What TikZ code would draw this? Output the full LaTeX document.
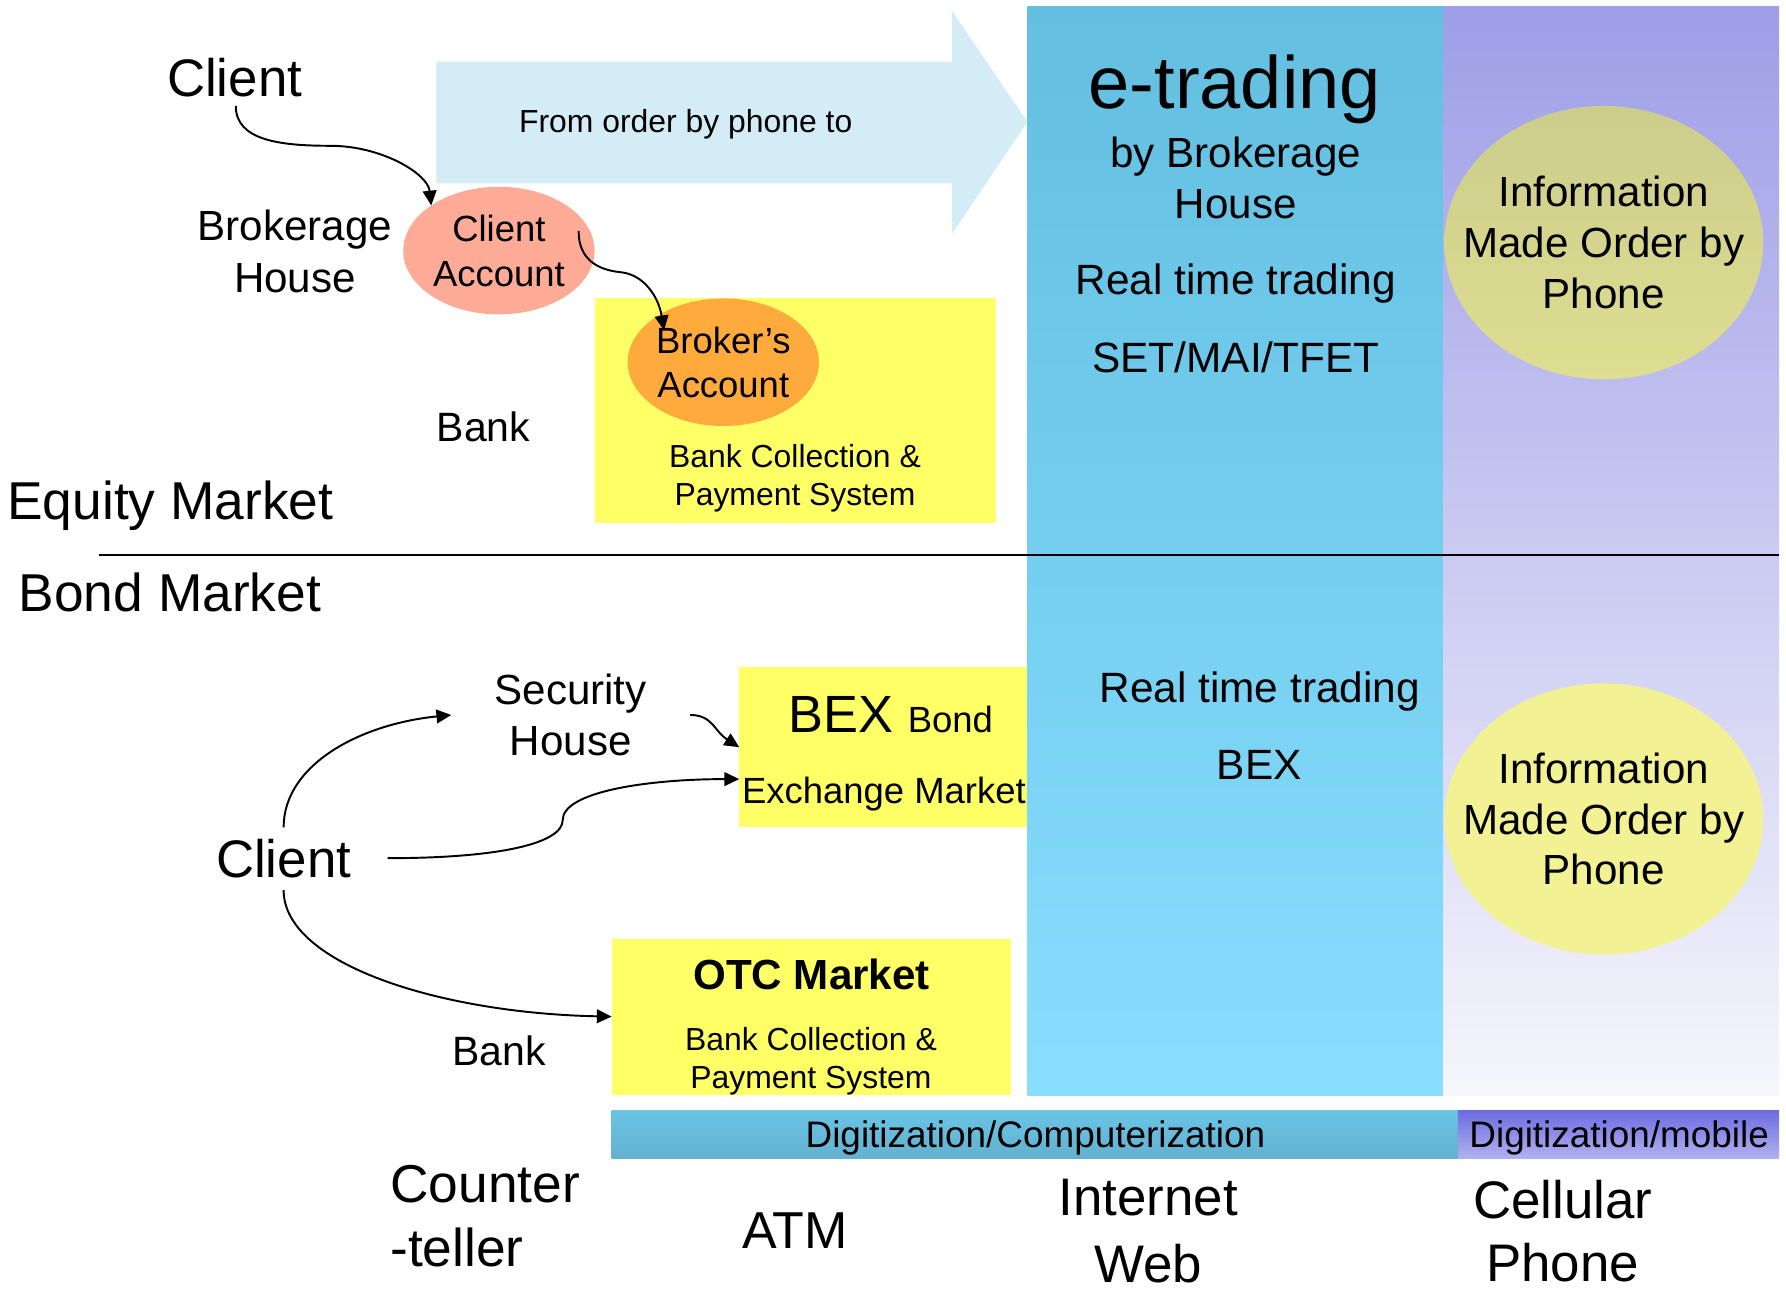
\documentclass[tikz,border=0pt]{standalone}
\usepackage{fontspec}
\setmainfont{Liberation Sans}
\usetikzlibrary{arrows.meta,shapes.geometric,calc}

\definecolor{arrowblue}{RGB}{212,236,246}
\definecolor{salmon}{RGB}{253,171,151}
\definecolor{orng}{RGB}{255,170,60}
\definecolor{ylw}{RGB}{255,255,102}
\definecolor{colbluetop}{RGB}{99,190,224}
\definecolor{colbluebot}{RGB}{136,222,255}
\definecolor{colpurtop}{RGB}{158,158,232}
\definecolor{colpurmid}{RGB}{216,216,244}
\definecolor{colpurbot}{RGB}{246,246,252}
\definecolor{olivetop}{RGB}{204,204,140}
\definecolor{olivebot}{RGB}{222,222,146}
\definecolor{paleyel}{RGB}{242,242,148}
\definecolor{barbluetop}{RGB}{106,196,228}
\definecolor{barbluebot}{RGB}{100,176,208}
\definecolor{barpurtop}{RGB}{108,108,224}
\definecolor{barpurbot}{RGB}{178,178,240}

\begin{document}
\begin{tikzpicture}[x=0.5pt,y=-0.5pt,
  txt/.style={inner sep=0pt,outer sep=0pt},
  fs/.style 2 args={font=\fontsize{#1}{#2}\selectfont},
  ybox/.style={rectangle,fill=ylw,inner sep=0pt,outer sep=0pt},
  blob/.style={ellipse,inner sep=0pt,outer sep=0pt},
  conn/.style={-{Triangle[length=6.5pt,width=6pt]},line width=0.85pt}]

\useasboundingbox (0,0) rectangle (1568,1135);

% columns
\shade[top color=colbluetop,bottom color=colbluebot] (902,6) rectangle (1267,962);
\shade[top color=colpurtop,middle color=colpurmid,bottom color=colpurbot] (1267,6) rectangle (1562,962);

% big arrow
\fill[arrowblue] (383,54) -- (836,54) -- (836,10) -- (902,107) -- (836,205) -- (836,161) -- (383,161) -- cycle;
\node[txt,fs={14}{17},anchor=base] (order) at (602,116) {From order by phone to};

% equity market
\node[txt,fs={23.2}{28},anchor=base] (client1) at (206,85) {Client};
\node[txt,fs={18.5}{23},align=center] (broker) at (259,220.7) {Brokerage\\House};
\node[ybox,minimum width=176pt,minimum height=98.5pt] (eqbox) at (698,360.5) {};
\node[blob,fill=salmon,minimum width=84pt,minimum height=56pt] (cacc) at (438,220) {};
\node[txt,fs={16}{19.7},align=center] (cacctxt) at (cacc.center) {Client\\Account};
\node[blob,fill=orng,minimum width=84pt,minimum height=56pt] (bacc) at (635,318) {};
\node[txt,fs={16}{19.35},align=center] (bacctxt) at (bacc.center) {Broker’s\\Account};
\node[txt,fs={18}{22},anchor=base] (bank1) at (424.5,388) {Bank};
\node[txt,fs={14}{16.75},align=center] (bcps1) at (698,420.1) {Bank Collection \&\\Payment System};
\node[txt,fs={23.4}{28},anchor=base west] (equity) at (6.5,456) {Equity Market};

% e-trading column
\node[txt,fs={32.5}{39},anchor=base] (etrade) at (1084,95) {e-trading};
\node[txt,fs={18.5}{22.35},align=center] (bybh) at (1085,155.9) {by Brokerage\\House};
\node[txt,fs={18.6}{22},anchor=base] (rtt1) at (1085,258.7) {Real time trading};
\node[txt,fs={18.6}{22},anchor=base] (setmai) at (1085,326.6) {SET/MAI/TFET};

% phone column, top
\node[blob,top color=olivetop,bottom color=olivebot,minimum width=140pt,minimum height=120pt] (info1) at (1408,213) {};
\node[txt,fs={18.5}{22.25},align=center] (info1txt) at (info1.center) {Information\\Made Order by\\Phone};

% separator
\draw[line width=0.8pt] (87,487) -- (1562,487);

% bond market
\node[txt,fs={23.4}{28},anchor=base west] (bond) at (16.5,537) {Bond Market};
\node[txt,fs={18.5}{22},align=center] (sec) at (501,627.7) {Security\\House};
\node[ybox,minimum width=126.5pt,minimum height=70pt] (bex) at (775.5,656) {};
\node[txt,anchor=base] (bextitle) at (782,643) {\fontsize{23}{28}\selectfont BEX \fontsize{16}{19}\selectfont Bond};
\node[txt,fs={16}{19},anchor=base] (exch) at (776,705) {Exchange Market};
\node[txt,fs={23.2}{28},anchor=base] (client2) at (249,770) {Client};
\node[ybox,minimum width=175.5pt,minimum height=68.5pt] (otc) at (712.5,892.5) {};
\node[txt,font=\bfseries\fontsize{18.5}{22}\selectfont,anchor=base] (otctitle) at (712.5,868.3) {OTC Market};
\node[txt,fs={14}{16.85},align=center] (bcps2) at (712,931.5) {Bank Collection \&\\Payment System};
\node[txt,fs={18}{22},anchor=base] (bank2) at (438,935.5) {Bank};

\node[txt,fs={18.6}{22},anchor=base] (rtt2) at (1106,616.8) {Real time trading};
\node[txt,fs={18.6}{22},anchor=base] (bex2) at (1105.6,684) {BEX};
\node[blob,fill=paleyel,minimum width=140pt,minimum height=119pt] (info2) at (1408,719) {};
\node[txt,fs={18.5}{22.3},align=center] (info2txt) at (info2.center) {Information\\Made Order by\\Phone};

% bottom bars
\shade[top color=barbluetop,bottom color=barbluebot] (537,975) rectangle (1280,1017.5);
\shade[top color=barpurtop,bottom color=barpurbot] (1280,975) rectangle (1562,1017.5);
\node[txt,fs={16.2}{19},anchor=base] (digi1) at (909,1007.8) {Digitization/Computerization};
\node[txt,fs={16.2}{19},anchor=base] (digi2) at (1421.5,1007.8) {Digitization/mobile};

% bottom labels
\node[txt,fs={23.4}{28.1},align=left,anchor=west] (counter) at (342.7,1068) {Counter\\-teller};
\node[txt,fs={22.8}{27},anchor=base] (atm) at (698,1096.3) {ATM};
\node[txt,fs={23.2}{29.2},align=center] (inet) at (1008,1081) {Internet\\Web};
\node[txt,fs={23.2}{28},align=center] (cell) at (1372,1080.9) {Cellular\\Phone};

% connectors
\draw[conn] ($(client1.base)+(1,8)$) .. controls +(0,30) and +(-45,0) .. (290,128) .. controls +(45,0) and +(-3,-28) .. (cacc.north west);
\draw[conn] ($(cacc.center)+(70,-17)$) .. controls +(0,25) and +(-20,-2) .. (545,239) .. controls +(20,2) and +(-5,-30) .. ($(bacc.center)+(-52,-28)$);
\draw[conn] ($(client2.north)+(0,-10)$) .. controls +(0,-55) and +(-80,8) .. ($(sec.west)+(-38,0)$);
\draw[conn] ($(sec.east)+(38,0)$) .. controls +(20,0) and +(-22,-14) .. (bex.west);
\draw[conn] ($(client2.east)+(32,0)$) .. controls +(100,0) and +(0,20) .. (494,720) .. controls +(0,-25) and +(-80,0) .. ($(bex.west)+(0,28)$);
\draw[conn] ($(client2.south)+(0,11)$) .. controls +(0,65) and +(-150,-3) .. (otc.west);

\end{tikzpicture}
\end{document}
